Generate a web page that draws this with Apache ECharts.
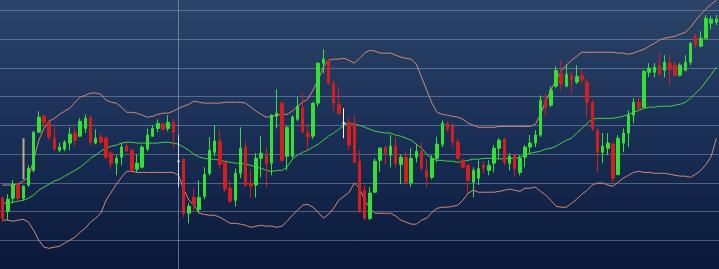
<!DOCTYPE html>
<html><head><meta charset="utf-8">
<script src="https://cdn.jsdelivr.net/npm/echarts@6/dist/echarts.min.js"></script>
<style>html,body{margin:0;padding:0;background:#0b1a3a;overflow:hidden}#c{width:719px;height:269px}</style>
</head><body><div id="c"></div>
<script>
const open=[24.6,20.1,24.6,29.5,24.6,29.2,34.3,47.6,53.1,51.0,
45.5,41.3,41.7,43.8,47.3,46.2,48.9,52.8,43.8,45.9,
45.5,40.3,36.8,38.9,42.7,41.3,34.7,35.4,41.7,46.2,
48.9,50.3,48.9,51.0,37.5,38.2,19.4,24.9,20.7,25.3,
33.3,40.6,44.5,37.1,28.1,23.9,33.3,42.4,29.9,29.2,
38.5,39.6,36.8,53.1,57.7,39.2,39.2,52.1,56.3,47.3,
46.2,57.7,71.6,72.6,64.6,57.3,50.7,51.0,50.7,37.5,
27.4,17.6,26.7,37.8,42.4,39.6,42.7,36.4,38.9,29.9,
38.9,41.0,34.3,31.9,38.5,43.4,50.7,49.6,44.1,37.8,
36.1,30.2,31.6,36.1,34.3,36.8,42.0,45.2,36.8,39.6,
33.6,38.9,42.4,43.8,46.6,59.1,57.0,63.6,68.1,63.6,
67.4,65.0,67.4,65.0,58.0,48.3,40.6,42.0,43.4,32.9,
43.8,47.3,53.5,58.0,56.3,68.4,68.4,70.9,69.1,71.6,
70.9,67.4,69.1,71.9,81.0,77.5,80.3,85.5,85.8];
const close=[17.6,24.3,29.5,24.6,28.8,35.0,47.6,52.8,51.0,45.9,
41.7,42.4,44.1,46.9,44.8,51.4,52.4,44.1,45.5,44.1,
38.9,36.8,38.5,42.4,41.0,34.3,36.8,42.4,46.6,48.9,
50.7,48.6,51.0,47.6,37.5,19.4,21.8,22.5,24.9,32.9,
41.3,44.5,36.4,27.8,23.6,33.3,42.0,29.2,28.8,38.5,
40.3,36.8,53.5,54.2,37.8,49.3,52.8,56.6,47.6,45.9,
57.7,71.6,73.0,64.6,57.7,54.2,50.7,43.1,37.1,20.4,
17.6,26.4,37.5,42.0,40.3,42.7,36.8,38.9,30.2,38.5,
41.0,35.0,31.9,38.5,43.4,50.7,48.6,44.1,38.5,35.4,
30.9,34.3,35.0,35.0,36.1,42.0,44.8,37.1,39.2,35.0,
38.5,42.4,43.8,46.6,58.7,56.3,62.2,69.1,64.3,67.7,
65.7,67.0,65.7,58.0,48.9,40.6,42.7,43.8,31.6,45.5,
47.3,53.5,58.0,55.9,68.8,69.8,70.2,67.7,71.9,69.5,
67.4,70.9,71.9,78.5,77.8,80.3,87.2,86.9,86.9];
const low=[16.3,17.0,22.9,23.9,23.9,28.5,33.6,47.3,49.3,44.8,
41.0,40.6,41.0,41.3,42.7,45.9,47.3,43.1,43.4,43.4,
38.2,34.7,32.6,36.1,40.6,33.6,33.6,35.0,41.0,45.9,
47.6,48.3,47.9,42.0,28.5,18.0,15.9,20.4,19.4,24.3,
32.6,39.2,35.0,26.7,22.9,21.8,31.6,28.5,24.9,24.9,
31.9,28.5,32.6,48.9,37.1,34.3,38.5,51.4,47.3,41.3,
45.2,56.6,68.1,64.3,55.2,53.5,45.5,41.3,36.8,19.4,
17.0,17.0,26.4,33.9,36.4,35.4,35.4,29.5,29.9,28.5,
37.1,34.3,28.5,31.2,37.1,42.4,47.9,42.4,37.8,35.0,
26.4,24.9,29.2,33.3,32.6,33.6,38.5,36.1,34.3,31.9,
32.6,35.4,40.3,42.4,45.9,53.5,56.3,62.9,62.2,63.2,
60.8,64.3,64.6,52.8,47.9,33.6,36.8,39.6,30.2,32.6,
40.6,42.4,50.7,55.2,55.9,66.7,66.7,67.4,66.7,63.9,
67.0,67.0,68.8,70.9,77.1,77.1,79.6,83.4,84.8];
const high=[25.3,26.0,30.9,30.2,29.2,36.1,47.9,54.9,53.8,51.7,
49.3,43.8,44.8,49.3,49.3,52.4,53.8,53.1,48.6,47.3,
46.2,41.0,39.6,43.8,43.8,42.0,39.9,43.1,48.9,50.0,
52.1,51.0,53.5,52.4,46.6,38.5,22.9,28.1,30.9,35.4,
45.9,50.0,48.3,37.8,30.9,35.0,49.3,44.1,34.3,40.3,
46.2,42.4,53.8,62.5,58.4,49.6,53.5,59.8,61.2,50.3,
58.0,71.9,76.4,73.3,65.7,63.2,55.9,52.8,53.5,41.3,
29.2,28.5,38.5,42.4,42.7,46.6,45.9,39.9,40.6,42.0,
43.4,44.1,38.2,39.6,45.9,51.7,51.4,50.7,45.5,38.5,
36.4,35.4,37.8,37.5,37.8,43.1,45.5,45.5,40.3,40.3,
39.6,43.1,46.6,48.3,60.4,61.2,63.6,70.5,72.6,71.2,
68.4,70.9,69.5,66.4,58.7,48.9,47.3,47.3,44.1,46.6,
48.9,55.2,59.4,60.4,69.1,71.6,71.6,75.4,74.4,74.4,
71.9,71.6,74.4,78.9,82.0,82.7,88.3,87.9,88.3];
const upper=[29.2,29.2,29.2,29.5,30.6,31.9,37.8,44.8,48.9,51.4,
52.4,53.8,54.9,55.9,58.0,59.8,60.4,61.2,61.2,60.8,
58.7,58.0,57.7,56.3,54.5,54.5,54.2,53.5,52.8,53.1,
53.8,54.2,54.2,54.9,55.9,56.6,57.3,58.4,58.0,57.7,
57.7,57.7,57.7,58.0,58.0,58.0,58.0,57.7,56.3,54.9,
53.8,52.8,53.1,53.5,53.8,53.8,54.9,56.6,58.0,59.1,
62.2,65.7,70.2,72.6,73.0,73.0,73.3,72.6,71.6,73.3,
75.1,76.1,75.8,75.1,75.1,75.1,74.4,73.7,73.3,73.0,
71.2,66.7,62.2,57.7,54.5,53.8,53.5,53.1,52.8,52.1,
50.7,50.0,49.3,49.3,49.3,49.3,49.6,49.6,49.6,49.6,
49.6,49.6,49.6,50.3,53.8,58.4,62.2,65.7,69.1,70.9,
72.6,74.0,75.4,75.4,75.4,75.4,75.4,75.4,75.4,75.1,
75.1,74.7,75.1,75.8,76.4,77.5,78.5,79.6,80.3,80.6,
81.0,81.7,82.4,84.1,86.5,88.6,90.4,92.1,93.5];
const middle=[22.9,22.9,23.2,23.6,23.9,24.6,25.7,27.4,28.5,29.5,
30.6,31.2,32.3,33.3,34.3,35.4,36.8,38.5,39.6,41.0,
42.0,42.7,43.1,43.8,44.1,44.1,43.8,43.8,43.8,43.8,
43.8,44.1,44.1,43.8,43.4,42.4,41.3,39.9,38.9,38.5,
38.2,38.2,37.8,37.5,37.1,36.8,36.8,36.4,36.1,35.4,
35.0,34.3,33.9,34.3,34.3,35.4,38.2,39.6,40.6,41.3,
42.4,43.4,44.8,46.2,47.3,48.6,50.0,50.7,50.3,50.0,
49.3,48.6,47.9,47.6,47.3,47.3,46.6,46.2,45.5,44.8,
43.4,42.0,39.9,38.5,37.8,37.8,37.5,37.5,37.1,37.5,
37.8,38.2,38.2,38.5,38.5,38.5,38.2,38.5,38.5,38.5,
38.9,39.6,40.3,40.6,41.0,41.7,42.0,42.7,43.8,44.8,
45.5,47.3,48.9,50.7,52.1,52.4,52.4,52.4,52.4,52.8,
53.1,53.8,54.5,55.2,55.9,56.3,56.3,56.6,56.6,56.6,
57.0,57.3,58.0,59.4,61.2,62.9,65.3,67.7,70.2];
const lower=[17.0,17.0,16.6,17.0,17.3,16.3,13.5,10.0,7.6,7.2,
7.6,7.9,9.0,10.0,11.1,12.8,14.2,16.3,17.7,19.4,
23.9,26.7,29.5,31.9,34.0,34.0,33.6,33.6,33.6,33.6,
33.6,33.6,33.6,33.6,32.6,27.8,23.9,22.2,19.4,19.0,
18.7,18.7,18.0,17.0,15.9,15.9,15.6,15.2,14.5,14.9,
15.2,14.9,14.9,14.5,14.9,16.6,18.7,20.4,22.2,22.5,
21.5,19.7,17.7,19.0,21.1,23.9,25.3,26.7,29.9,28.1,
23.9,21.1,19.4,19.4,19.4,19.4,18.4,17.0,16.3,15.6,
15.6,17.0,17.7,19.7,21.1,21.5,21.5,21.8,22.2,23.9,
26.4,27.4,26.7,26.7,26.7,26.7,27.0,27.4,27.8,27.4,
27.0,28.1,28.1,28.5,27.0,25.7,23.9,21.8,21.5,21.5,
22.9,24.3,26.0,27.4,29.2,29.9,29.9,29.2,28.8,30.2,
31.6,32.6,33.6,34.0,33.6,33.6,33.3,33.3,33.3,33.0,
32.6,32.3,32.3,31.9,33.0,34.3,36.4,39.2,45.5];
const dojiIndex=[34,66];
const markerIndex=4, markerLow=31.2, markerHigh=45.5;
const dividerIndex=34;
const categories=open.map((_, i) => 'P' + (i + 1));

const white={color:'#ffffff',color0:'#ffffff',borderColor:'#ffffff',borderColor0:'#ffffff',borderColorDoji:'#ffffff'};
const candleData=open.map((o,i)=>{
  const v=[o,close[i],low[i],high[i]];
  return dojiIndex.includes(i)?{value:v,itemStyle:white}:v;
});
const markerData=categories.map((_,i)=> i===markerIndex?[markerLow,markerHigh,markerLow,markerHigh]:'-');

const chart=echarts.init(document.getElementById('c'),null,{renderer:'canvas'});
chart.setOption({
  animation:false,
  backgroundColor:new echarts.graphic.LinearGradient(0,0,0,1,[
    {offset:0,color:'#2c4468'},{offset:0.5,color:'#1a2f56'},{offset:1,color:'#0a1839'}]),
  grid:{left:-3.6,right:-3,top:0,bottom:0,containLabel:false},
  xAxis:{type:'category',data:categories,boundaryGap:true,
    axisLine:{show:false},axisTick:{show:false},axisLabel:{show:false},splitLine:{show:false}},
  yAxis:{type:'value',min:0,max:93.57,interval:10,
    axisLine:{show:false},axisTick:{show:false},axisLabel:{show:false},
    splitLine:{show:true,showMinLine:false,showMaxLine:false,lineStyle:{color:'rgba(150,172,205,0.45)',width:1}}},
  series:[
    {type:'line',data:upper,symbol:'none',z:2,lineStyle:{color:'#d48a72',width:1},
      markLine:{silent:true,symbol:'none',label:{show:false},
        lineStyle:{color:'rgba(165,185,215,0.5)',width:1,type:'solid'},
        data:[{xAxis:categories[dividerIndex]}]}},
    {type:'line',data:lower,symbol:'none',z:2,lineStyle:{color:'#d48a72',width:1}},
    {type:'line',data:middle,symbol:'none',z:2,lineStyle:{color:'#46d046',width:1}},
    {type:'candlestick',data:candleData,barWidth:3,z:3,
      itemStyle:{color:'#33e033',color0:'#d41e1e',borderColor:'#33e033',borderColor0:'#d41e1e',borderWidth:1}},
    {type:'candlestick',data:markerData,barWidth:2,z:3,
      itemStyle:{color:'#b8ab8a',color0:'#b8ab8a',borderColor:'#b8ab8a',borderColor0:'#b8ab8a',borderWidth:0}}
  ]
});
</script></body></html>
